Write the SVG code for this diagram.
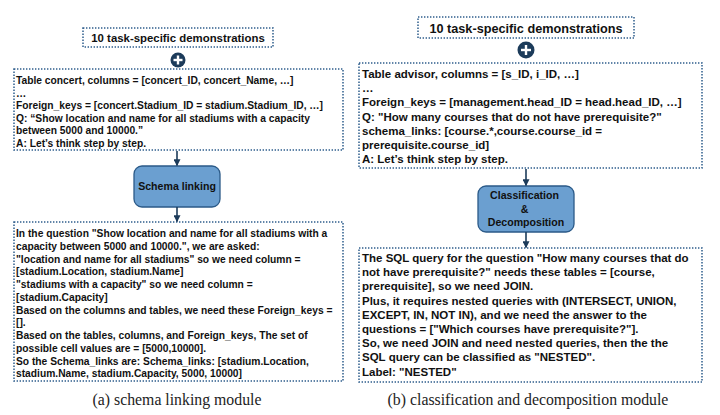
<svg xmlns="http://www.w3.org/2000/svg" width="720" height="415" viewBox="0 0 720 415">
<defs>
<style>
.dot{fill:#fff;stroke:#2e5d8c;stroke-width:1.5;stroke-dasharray:1.4 1.6}
.t{font-family:"Liberation Sans",Arial,sans-serif;font-weight:bold;fill:#111}
.l{font-size:10.25px}
.r{font-size:11.5px}
.proc{fill:#6b9fd0;stroke:#2b5a88;stroke-width:1.3}
.ptxt{font-family:"Liberation Sans",Arial,sans-serif;font-weight:bold;font-size:10.6px;fill:#111;text-anchor:middle}
.cap{font-family:"Liberation Serif","Times New Roman",serif;font-size:15.8px;fill:#222;text-anchor:middle}
.plus{fill:#1c3b5a}
.pl{stroke:#fff;stroke-width:2.4}
.arr{stroke:#1c3b5a;stroke-width:1.6;fill:none}
</style>
<marker id="ah" viewBox="0 0 10 10" refX="9" refY="5" markerWidth="7" markerHeight="7" orient="auto" markerUnits="userSpaceOnUse">
<path d="M0,0 L10,5 L0,10 z" fill="#1c3b5a"/>
</marker>
</defs>
<rect width="720" height="415" fill="#fff"/>

<!-- LEFT PANEL -->
<g id="left-demos">
<rect class="dot" x="83" y="28" width="190" height="19"/>
<text class="t" x="178" y="42" font-size="11.4" text-anchor="middle">10 task-specific demonstrations</text>
</g>
<g id="left-plus">
<circle class="plus" cx="178" cy="60" r="7.5"/>
<line class="pl" x1="173.5" y1="60" x2="182.5" y2="60"/>
<line class="pl" x1="178" y1="55.5" x2="178" y2="64.5"/>
</g>
<g id="left-prompt">
<rect class="dot" x="14" y="69" width="329" height="81"/>
<text class="t l" x="16">
<tspan x="16" y="84">Table concert, columns = [concert_ID, concert_Name, …]</tspan>
<tspan x="16" y="96.6">…</tspan>
<tspan x="16" y="109.2">Foreign_keys = [concert.Stadium_ID = stadium.Stadium_ID, …]</tspan>
<tspan x="16" y="121.8">Q: “Show location and name for all stadiums with a capacity</tspan>
<tspan x="16" y="134.4">between 5000 and 10000.”</tspan>
<tspan x="16" y="147">A: Let’s think step by step.</tspan>
</text>
</g>
<g id="schema-linking">
<rect class="proc" x="134" y="166" width="86" height="41" rx="8"/>
<text class="ptxt" x="177" y="190">Schema linking</text>
</g>
<g id="left-output">
<rect class="dot" x="14" y="222" width="329" height="159"/>
<text class="t l">
<tspan x="16" y="237">In the question "Show location and name for all stadiums with a</tspan>
<tspan x="16" y="249.75">capacity between 5000 and 10000.", we are asked:</tspan>
<tspan x="16" y="262.5">"location and name for all stadiums" so we need column =</tspan>
<tspan x="16" y="275.25">[stadium.Location, stadium.Name]</tspan>
<tspan x="16" y="288">"stadiums with a capacity" so we need column =</tspan>
<tspan x="16" y="300.75">[stadium.Capacity]</tspan>
<tspan x="16" y="313.5">Based on the columns and tables, we need these Foreign_keys =</tspan>
<tspan x="16" y="326.25">[].</tspan>
<tspan x="16" y="339">Based on the tables, columns, and Foreign_keys, The set of</tspan>
<tspan x="16" y="351.75">possible cell values are = [5000,10000].</tspan>
<tspan x="16" y="364.5">So the Schema_links are: Schema_links: [stadium.Location,</tspan>
<tspan x="16" y="377.25">stadium.Name, stadium.Capacity, 5000, 10000]</tspan>
</text>
</g>
<text class="cap" x="177" y="405">(a) schema linking module</text>

<!-- RIGHT PANEL -->
<g id="right-demos">
<rect class="dot" x="418" y="17" width="216" height="21"/>
<text class="t" x="526" y="32.5" font-size="12.7" text-anchor="middle">10 task-specific demonstrations</text>
</g>
<g id="right-plus">
<circle class="plus" cx="526" cy="50" r="8.5"/>
<line class="pl" x1="521" y1="50" x2="531" y2="50"/>
<line class="pl" x1="526" y1="45" x2="526" y2="55"/>
</g>
<g id="right-prompt">
<rect class="dot" x="359" y="63" width="343" height="105"/>
<text class="t r">
<tspan x="362" y="78">Table advisor, columns = [s_ID, i_ID, …]</tspan>
<tspan x="362" y="92.2">…</tspan>
<tspan x="362" y="106.4">Foreign_keys = [management.head_ID = head.head_ID, …]</tspan>
<tspan x="362" y="120.6">Q: "How many courses that do not have prerequisite?"</tspan>
<tspan x="362" y="134.8">schema_links: [course.*,course.course_id =</tspan>
<tspan x="362" y="149">prerequisite.course_id]</tspan>
<tspan x="362" y="163.2">A: Let’s think step by step.</tspan>
</text>
</g>
<g id="classification">
<rect class="proc" x="478" y="186" width="96" height="46" rx="8"/>
<text class="ptxt">
<tspan x="526" y="199">Classification</tspan>
<tspan x="526" y="212.5">&amp;</tspan>
<tspan x="526" y="226">Decomposition</tspan>
</text>
</g>
<g id="right-output">
<rect class="dot" x="359" y="248" width="343" height="134"/>
<text class="t r">
<tspan x="362" y="262">The SQL query for the question "How many courses that do</tspan>
<tspan x="362" y="276.2">not have prerequisite?" needs these tables = [course,</tspan>
<tspan x="362" y="290.4">prerequisite], so we need JOIN.</tspan>
<tspan x="362" y="304.6">Plus, it requires nested queries with (INTERSECT, UNION,</tspan>
<tspan x="362" y="318.8">EXCEPT, IN, NOT IN), and we need the answer to the</tspan>
<tspan x="362" y="333">questions = ["Which courses have prerequisite?"].</tspan>
<tspan x="362" y="347.2">So, we need JOIN and need nested queries, then the the</tspan>
<tspan x="362" y="361.4">SQL query can be classified as "NESTED".</tspan>
<tspan x="362" y="375.6">Label: "NESTED"</tspan>
</text>
</g>
<text class="cap" x="528" y="405">(b) classification and decomposition module</text>

<g id="connectors">
<line class="arr" x1="177" y1="151" x2="177" y2="165.5" marker-end="url(#ah)"/>
<line class="arr" x1="177" y1="207" x2="177" y2="221.5" marker-end="url(#ah)"/>
<line class="arr" x1="526" y1="169" x2="526" y2="185.5" marker-end="url(#ah)"/>
<line class="arr" x1="526" y1="232" x2="526" y2="247.5" marker-end="url(#ah)"/>
</g>
</svg>
